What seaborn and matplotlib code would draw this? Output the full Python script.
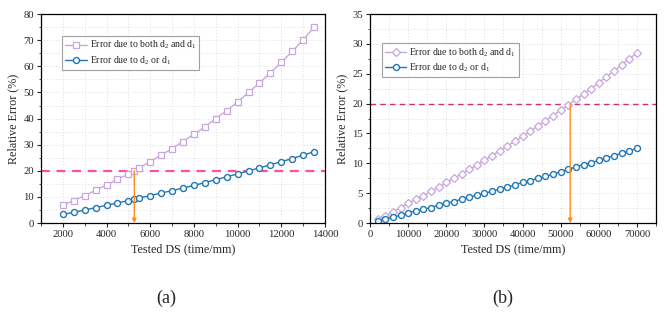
import matplotlib
matplotlib.use("Agg")
import matplotlib.pyplot as plt
import seaborn as sns
import pandas as pd
from matplotlib.ticker import MultipleLocator

# panel (a)
ds_a = [2000, 2500, 3000, 3500, 4000, 4500, 5000, 5270, 5500, 6000, 6500, 7000, 7500,
        8000, 8500, 9000, 9500, 10000, 10500, 11000, 11500, 12000, 12500, 13000, 13500]
both_a = [6.8, 8.6, 10.5, 12.5, 14.6, 16.7, 18.8, 20.0, 21.2, 23.5, 26.0, 28.5, 31.2,
          34.0, 36.8, 40.0, 43.0, 46.4, 50.0, 53.6, 57.5, 61.5, 65.7, 70.2, 75.0]
single_a = [3.3, 4.1, 5.0, 5.9, 6.8, 7.7, 8.6, 9.2, 9.6, 10.5, 11.5, 12.4, 13.4,
            14.4, 15.5, 16.6, 17.7, 18.8, 20.0, 21.1, 22.3, 23.5, 24.7, 26.0, 27.3]
cross_a = 5270

# panel (b)
ds_b = [2000, 4000, 6000, 8000, 10000, 12000, 14000, 16000, 18000, 20000, 22000, 24000,
        26000, 28000, 30000, 32000, 34000, 36000, 38000, 40000, 42000, 44000, 46000,
        48000, 50000, 52000, 54000, 56000, 58000, 60000, 62000, 64000, 66000, 68000, 70000]
both_b = [0.6, 1.2, 1.9, 2.6, 3.3, 4.0, 4.6, 5.3, 6.0, 6.8, 7.5, 8.2, 9.0, 9.7, 10.5,
          11.3, 12.1, 12.9, 13.7, 14.5, 15.4, 16.2, 17.1, 18.0, 18.9, 19.8, 20.7, 21.6,
          22.5, 23.5, 24.5, 25.5, 26.5, 27.5, 28.5]
single_b = [0.3, 0.6, 1.0, 1.3, 1.7, 2.0, 2.3, 2.6, 3.0, 3.3, 3.6, 4.0, 4.3, 4.7, 5.0,
            5.3, 5.7, 6.0, 6.4, 6.8, 7.1, 7.5, 7.8, 8.2, 8.6, 9.0, 9.4, 9.8, 10.1, 10.5,
            10.9, 11.3, 11.7, 12.1, 12.5]
cross_b = 52500

label_both = "Error due to both d$_2$ and d$_1$"
label_single = "Error due to d$_2$ or d$_1$"

purple = "#c7a7dc"
blue = "#2277b6"
orange = "#ff8c1a"

sns.set_style("ticks")
plt.rcParams["font.family"] = ["Liberation Serif", "DejaVu Serif"]
plt.rcParams["mathtext.fontset"] = "custom"
plt.rcParams["mathtext.rm"] = "Liberation Serif"
plt.rcParams["mathtext.default"] = "regular"

fig = plt.figure(figsize=(6.66, 3.2), dpi=100)
ax1 = fig.add_axes([0.0616, 0.303, 0.4264, 0.653])
ax2 = fig.add_axes([0.5556, 0.303, 0.4294, 0.653])


def panel(ax, x, both, single, both_marker, msize, cross, ylim, ymaj, ymin, xlim, xmaj,
          xmin, hcolor, hlw, legend_pos):
    df = pd.DataFrame({"x": x, "both": both, "single": single})
    sns.lineplot(data=df, x="x", y="both", ax=ax, color=purple, lw=1.0,
                 marker=both_marker, markersize=msize, markerfacecolor="white",
                 markeredgecolor=purple, markeredgewidth=0.9, label=label_both)
    sns.lineplot(data=df, x="x", y="single", ax=ax, color=blue, lw=1.0,
                 marker="o", markersize=4.3, markerfacecolor="white",
                 markeredgecolor=blue, markeredgewidth=1.0, label=label_single)
    ax.axhline(20, color=hcolor, ls=(0, (4, 3)), lw=hlw, zorder=1)
    ax.annotate("", xy=(cross, 0), xytext=(cross, 20),
                arrowprops=dict(arrowstyle="-|>", color=orange, lw=1.0,
                                mutation_scale=6, shrinkA=0, shrinkB=0))
    ax.set_xlim(*xlim)
    ax.set_ylim(*ylim)
    ax.xaxis.set_major_locator(MultipleLocator(xmaj))
    ax.xaxis.set_minor_locator(MultipleLocator(xmin))
    ax.yaxis.set_major_locator(MultipleLocator(ymaj))
    ax.yaxis.set_minor_locator(MultipleLocator(ymin))
    ax.grid(which="both", color="#dddddd", ls=(0, (1, 2)), lw=0.7)
    ax.set_axisbelow(True)
    for s in ax.spines.values():
        s.set_color("black")
        s.set_linewidth(0.9)
    ax.tick_params(which="major", direction="out", length=3, width=0.8,
                   labelsize=7.7, pad=2)
    ax.tick_params(which="minor", direction="out", length=1.8, width=0.6)
    ax.set_xlabel("Tested DS (time/mm)", fontsize=8.7, labelpad=3)
    ax.set_ylabel("Relative Error (%)", fontsize=8.7, labelpad=3)
    leg = ax.legend(loc="upper left", bbox_to_anchor=legend_pos, fontsize=7,
                    frameon=True, fancybox=False, edgecolor="#888888",
                    handlelength=2.2, handletextpad=0.3, borderpad=0.3,
                    labelspacing=0.3, borderaxespad=0)
    leg.get_frame().set_linewidth(0.8)


panel(ax1, ds_a, both_a, single_a, "s", 3.8, cross_a, (0, 80), 10, 5,
      (1000, 14000), 2000, 1000, "#ff4fa3", 1.6, (0.075, 0.895))
panel(ax2, ds_b, both_b, single_b, "D", 3.6, cross_b, (0, 35), 5, 2.5,
      (0, 75000), 10000, 5000, "#cc2f72", 1.0, (0.042, 0.86))

fig.text(0.249, 0.068, "(a)", fontsize=13, ha="center", va="center")
fig.text(0.755, 0.068, "(b)", fontsize=13, ha="center", va="center")

fig.savefig("out.png", dpi=100)
